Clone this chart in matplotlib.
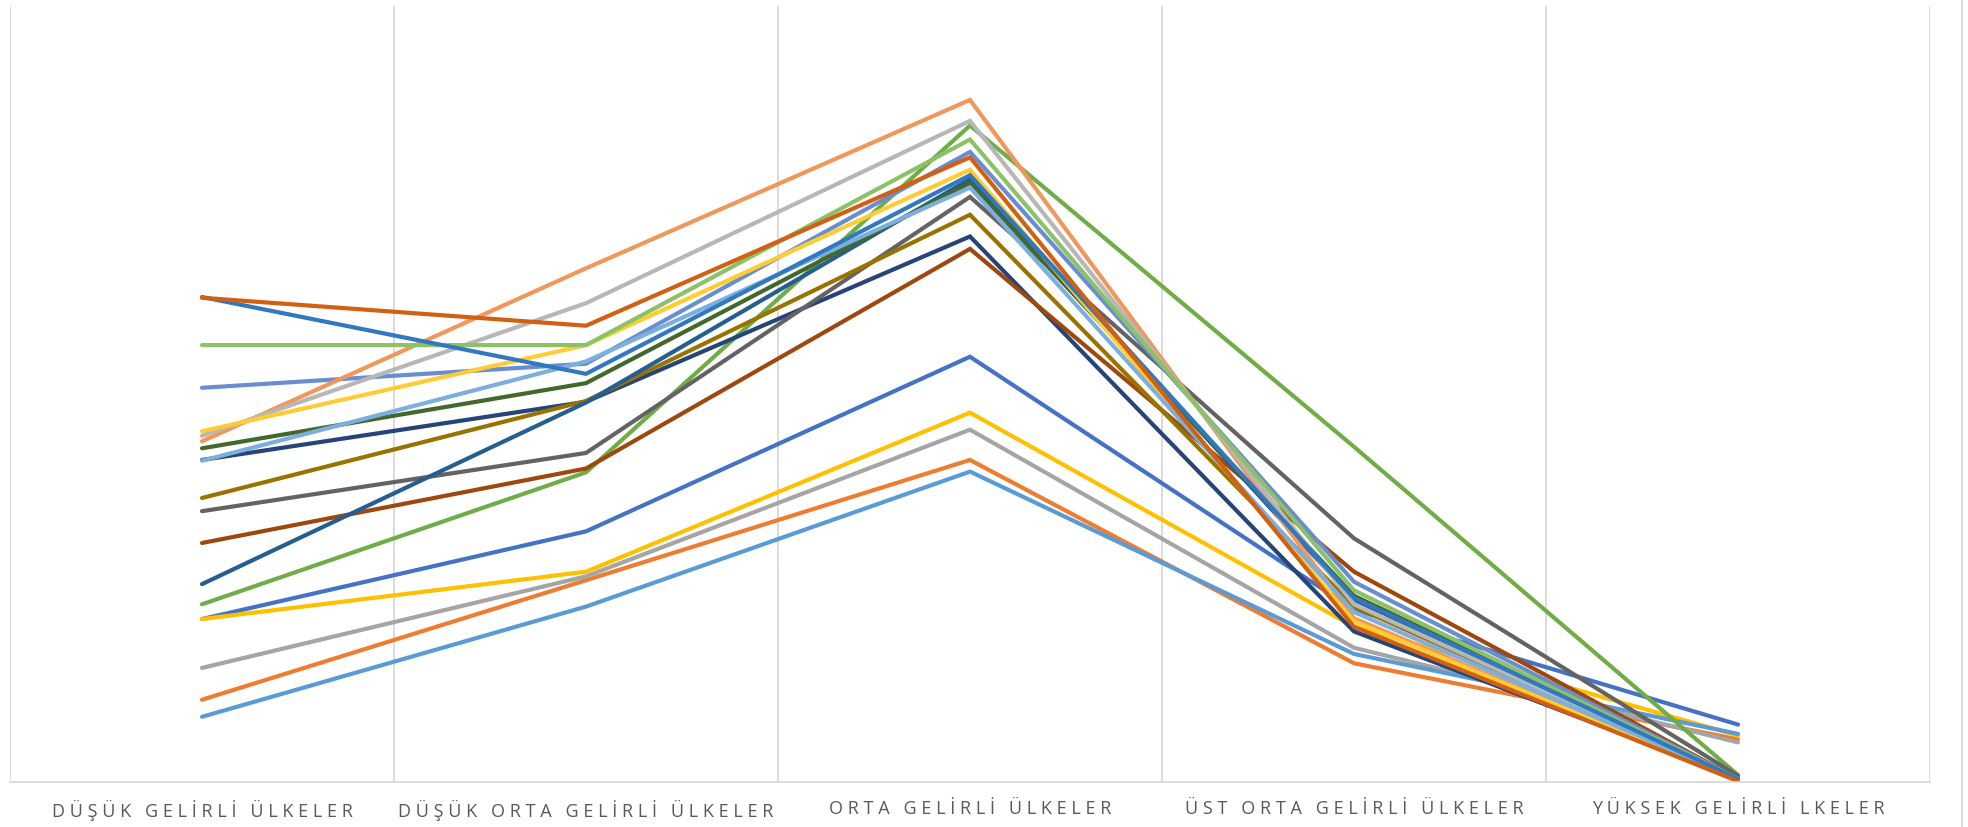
import matplotlib
matplotlib.use("Agg")
import matplotlib.pyplot as plt
from matplotlib.lines import Line2D

# --- DATA (arbitrary 0-100 scale) ---
CATEGORIES = [
    "DÜŞÜK GELİRLİ ÜLKELER",
    "DÜŞÜK ORTA GELİRLİ ÜLKELER",
    "ORTA GELİRLİ ÜLKELER",
    "ÜST ORTA GELİRLİ ÜLKELER",
    "YÜKSEK GELİRLİ LKELER",
]

s01 = [21.0, 32.3, 54.8, 22.2, 7.4]
s02 = [10.6, 26.0, 41.5, 15.3, 5.5]
s03 = [14.7, 26.5, 45.4, 17.3, 5.1]
s04 = [21.0, 27.1, 47.6, 20.0, 6.0]
s05 = [8.4, 22.6, 40.0, 16.5, 6.2]
s06 = [22.9, 39.9, 84.6, 43.2, 0.9]
s07 = [41.5, 49.0, 70.3, 19.4, 0.5]
s08 = [30.8, 40.4, 68.7, 27.1, 0.4]
s09 = [34.9, 42.4, 75.4, 31.4, 0.8]
s10 = [36.6, 49.1, 73.1, 22.6, 0.5]
s11 = [25.5, 48.9, 77.7, 23.5, 0.4]
s12 = [43.0, 51.4, 77.2, 24.0, 0.5]
s13 = [50.8, 53.9, 81.2, 25.8, 0.4]
s14 = [43.9, 66.2, 87.9, 21.1, 0.3]
s15 = [44.6, 61.7, 85.2, 22.9, 0.4]
s16 = [45.2, 56.3, 78.9, 20.7, 0.3]
s17 = [41.4, 54.2, 76.6, 21.9, 0.4]
s18 = [56.3, 56.3, 82.8, 24.7, 0.4]
s19 = [62.5, 52.6, 78.2, 23.7, 0.4]
s20 = [62.4, 58.8, 80.5, 20.0, 0.1]

SERIES = [s01, s02, s03, s04, s05, s06, s07, s08, s09, s10,
          s11, s12, s13, s14, s15, s16, s17, s18, s19, s20]

# Excel-like series palette
COLORS = [
    "#4472C4", "#ED7D31", "#A5A5A5", "#FFC000", "#5B9BD5", "#70AD47",
    "#264478", "#9E480E", "#636363", "#997300", "#255E91", "#43682B",
    "#698ED0", "#F1975A", "#B7B7B7", "#FFCD33", "#7CAFDD", "#8CC168",
    "#3079C0", "#D26012",
]

W, H = 1968, 827
fig = plt.figure(figsize=(W / 100, H / 100), dpi=100)
ax = fig.add_axes([10 / W, 45 / H, 1920 / W, 776 / H])

x = list(range(len(CATEGORIES)))
for vals, col in zip(SERIES, COLORS):
    ax.plot(x, vals, color=col, linewidth=3.0, solid_capstyle="round",
            solid_joinstyle="miter")

ax.set_xlim(-0.5, len(CATEGORIES) - 0.5)
ax.set_ylim(0, 100)

# vertical gridlines at category boundaries
for b in range(len(CATEGORIES) + 1):
    ax.axvline(b - 0.5, color="#d9d9d9", linewidth=1.3, zorder=0)

for side in ["top", "left", "right"]:
    ax.spines[side].set_visible(False)
ax.spines["bottom"].set_color("#d9d9d9")
ax.spines["bottom"].set_linewidth(1.3)

# letter-spaced category labels (Excel-style character spacing)
GAP = "\u2009\u200a"
spaced = [GAP.join(c) for c in CATEGORIES]
spaced = [s.replace(GAP + " " + GAP, "   ") for s in spaced]

ax.set_yticks([])
ax.set_xticks(x)
ax.set_xticklabels(spaced, color="#595959", fontsize=13,
                   family=["Open Sans", "DejaVu Sans"])
ax.tick_params(axis="x", length=0, pad=13)

# chart area border on the right
fig.add_artist(Line2D([1962 / W, 1962 / W], [0, 1], color="#d9d9d9",
                      linewidth=1.3, transform=fig.transFigure))

fig.savefig("out.png", dpi=100, facecolor="white")
